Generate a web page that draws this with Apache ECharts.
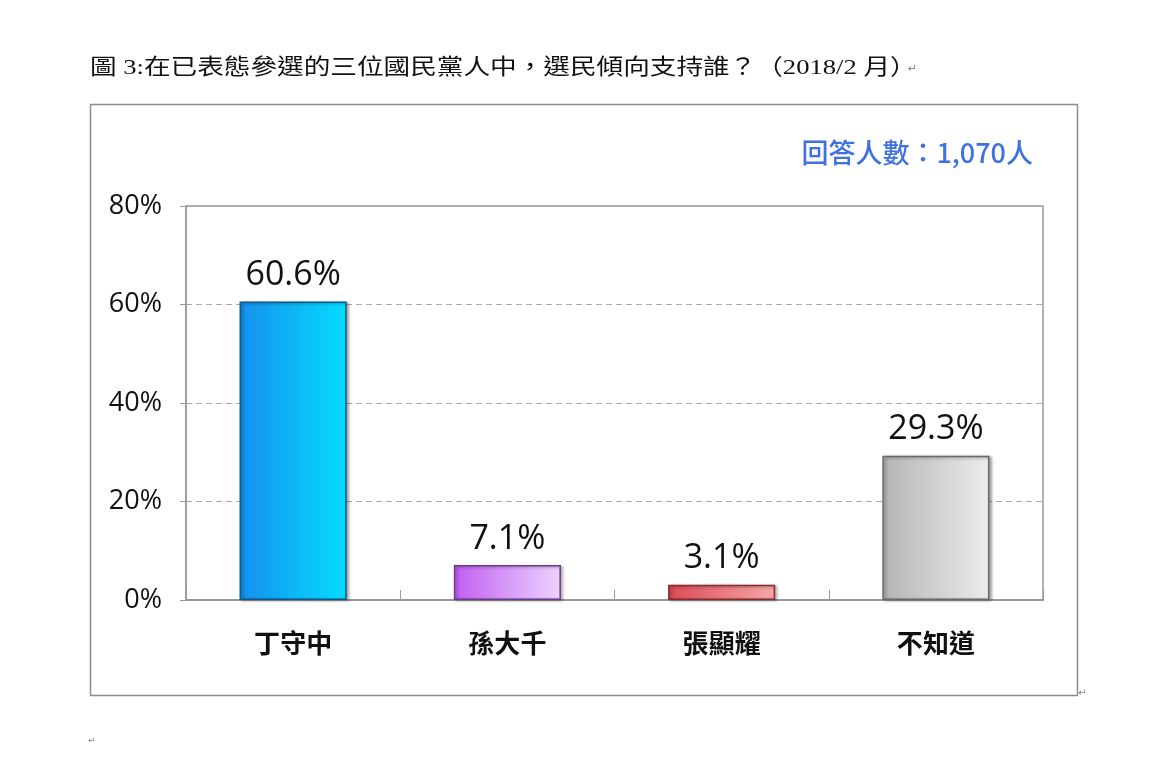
<!DOCTYPE html>
<html><head><meta charset="utf-8">
<script src="https://cdn.jsdelivr.net/npm/echarts@6/dist/echarts.min.js"></script>
<style>html,body{margin:0;padding:0;background:#fff}#c{width:1155px;height:763px}</style>
</head><body><div id="c"></div>
<script>
const categories = ['丁守中', '孫大千', '張顯耀', '不知道'];
const values = [60.6, 7.1, 3.1, 29.3];
const yTicks = [0, 20, 40, 60, 80];
const titleText = '圖 3:在已表態參選的三位國民黨人中，選民傾向支持誰？（2018/2 月）';
const noteText = '回答人數：1,070人';

const barStyles = [
  {c0: '#1590ee', c1: '#05dcff', b: '#0a5a8a'},
  {c0: '#c25ff2', c1: '#ecd4ff', b: '#6a3c8a'},
  {c0: '#dc4a55', c1: '#f6a8a8', b: '#8a2a30'},
  {c0: '#b4b4b4', c1: '#ececec', b: '#6a6a6a'}
];

const chart = echarts.init(document.getElementById('c'));
chart.setOption({
  animation: false,
  backgroundColor: '#fff',
  graphic: [
    {type: 'rect', shape: {x: 90.5, y: 104.5, width: 987, height: 591}, style: {fill: 'none', stroke: '#8c8c8c', lineWidth: 1.5}, z: -1},
    {type: 'text', x: 90, y: 57, scaleX: 1.21, style: {text: titleText, font: '22px "Liberation Serif", "Noto Sans CJK TC"', fill: '#111'}},
    {type: 'text', left: 908, top: 64, style: {text: '↵', font: '11px "DejaVu Sans"', fill: '#888'}},
    {type: 'text', left: 1078, top: 688, style: {text: '↵', font: '10px "DejaVu Sans"', fill: '#888'}},
    {type: 'text', left: 88, top: 736, style: {text: '↵', font: '9px "DejaVu Sans"', fill: '#888'}},
    {type: 'text', right: 122, top: 139, style: {text: noteText, font: '500 27px "Noto Sans CJK TC"', fill: '#3f72e0', align: 'right'}}
  ],
  grid: {left: 186, right: 112, top: 206, bottom: 163, show: true, borderColor: '#999', borderWidth: 1.5},
  xAxis: {
    type: 'category',
    data: categories,
    axisLine: {lineStyle: {color: '#999', width: 2}},
    axisTick: {show: true, inside: true, length: 10, lineStyle: {color: '#999'}},
    axisLabel: {color: '#111', fontSize: 26, fontWeight: 'bold', fontFamily: '"Noto Sans CJK TC"', margin: 30}
  },
  yAxis: {
    type: 'value', min: yTicks[0], max: yTicks[yTicks.length - 1], interval: 20,
    axisLine: {show: true, lineStyle: {color: '#999', width: 1.5}},
    axisTick: {show: true, length: 6, lineStyle: {color: '#999'}},
    splitLine: {lineStyle: {color: '#aaa', type: [6, 4]}},
    axisLabel: {color: '#111', fontSize: 27, fontFamily: '"Open Sans", "Noto Sans"', margin: 24, formatter: '{value}%'}
  },
  series: [{
    type: 'bar',
    barWidth: '50%',
    data: values.map((v, i) => ({
      value: v,
      itemStyle: {
        color: {type: 'linear', x: 0, y: 0, x2: 1, y2: 0, colorStops: [{offset: 0, color: barStyles[i].c0}, {offset: 1, color: barStyles[i].c1}]},
        borderColor: barStyles[i].b, borderWidth: 1.5,
        shadowColor: 'rgba(0,0,0,0.35)', shadowBlur: 3, shadowOffsetX: 2, shadowOffsetY: 1
      }
    })),
    label: {show: true, position: 'top', distance: 9, color: '#111', fontSize: 34, fontFamily: '"Open Sans", "Noto Sans"', formatter: p => p.value.toFixed(1) + '%'}
  }]
});
</script></body></html>
